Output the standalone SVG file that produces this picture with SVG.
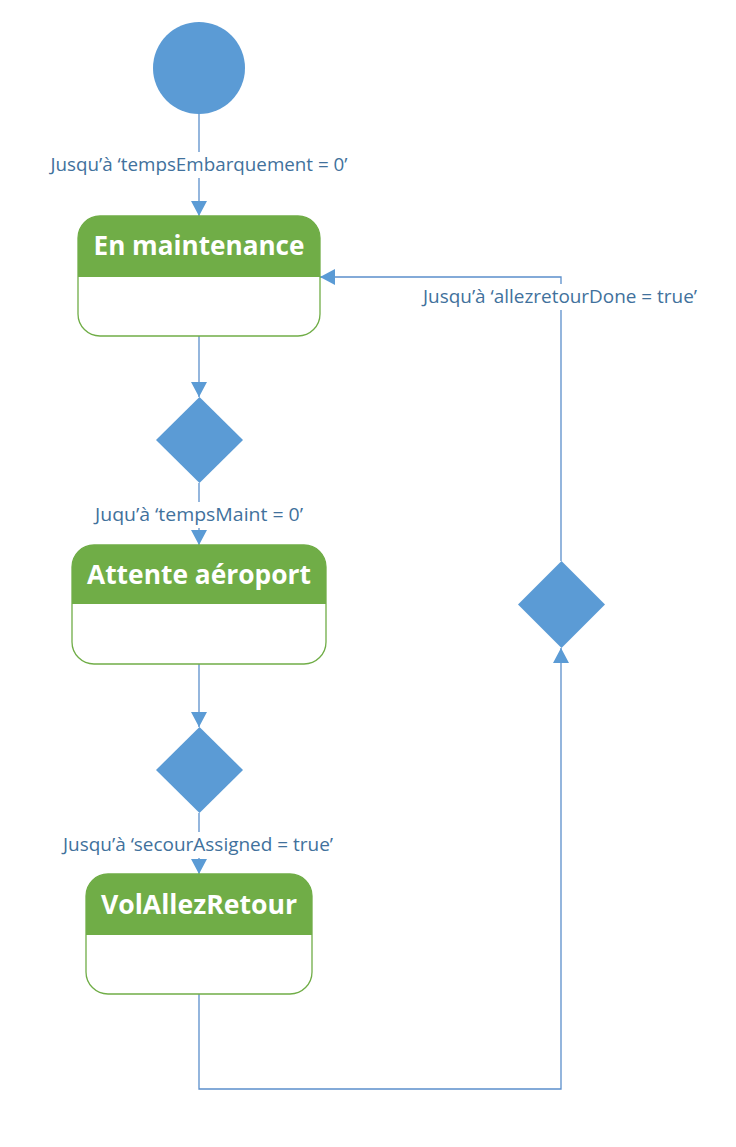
<svg xmlns="http://www.w3.org/2000/svg" width="736" height="1147" viewBox="0 0 736 1147">
<style>
.conn{fill:none;stroke:#5B8FCB;stroke-width:1.3}
.dec{fill:#5B9BD5}
.hdr{fill:#70AD47}
.body{fill:#fff;stroke:#70AD47;stroke-width:1.3}
.title{font-family:"Open Sans",sans-serif;font-weight:bold;font-size:26px;fill:#fff;text-anchor:middle}
.lbl{font-family:"Open Sans",sans-serif;font-size:18.5px;fill:#41719C;text-anchor:middle}
</style>
<defs>
<marker id="arr" markerUnits="userSpaceOnUse" markerWidth="16" markerHeight="16" viewBox="0 0 16 16" refX="15" refY="8" orient="auto">
<path d="M0,0 L15,8 L0,16 Z" fill="#5B9BD5"/>
</marker>
</defs>
<g id="start"><circle cx="199" cy="68" r="46" class="dec"/></g>
<g id="connectors">
<line class="conn" x1="199" y1="114" x2="199" y2="216" marker-end="url(#arr)"/>
<line class="conn" x1="199" y1="336" x2="199" y2="397" marker-end="url(#arr)"/>
<line class="conn" x1="199" y1="483" x2="199" y2="545" marker-end="url(#arr)"/>
<line class="conn" x1="199" y1="664" x2="199" y2="727" marker-end="url(#arr)"/>
<line class="conn" x1="199" y1="813" x2="199" y2="874" marker-end="url(#arr)"/>
<polyline class="conn" points="199,994 199,1089 561,1089 561,648" marker-end="url(#arr)"/>
<polyline class="conn" points="561,561 561,277 320,277" marker-end="url(#arr)"/>
<rect x="420" y="284" width="282" height="26" fill="#fff"/>
<rect x="46" y="152" width="306" height="26" fill="#fff"/>
<rect x="91" y="502" width="216" height="26" fill="#fff"/>
<rect x="59" y="832" width="278" height="26" fill="#fff"/>
<text class="lbl" x="199" y="171" textLength="297" lengthAdjust="spacingAndGlyphs">Jusqu’à ‘tempsEmbarquement = 0’</text>
<text class="lbl" x="199" y="521" textLength="208" lengthAdjust="spacingAndGlyphs">Juqu’à ‘tempsMaint = 0’</text>
<text class="lbl" x="198" y="851" textLength="270" lengthAdjust="spacingAndGlyphs">Jusqu’à ‘secourAssigned = true’</text>
<text class="lbl" x="560" y="303" textLength="274" lengthAdjust="spacingAndGlyphs">Jusqu’à ‘allezretourDone = true’</text>
</g>
<g id="en-maintenance">
<rect class="body" x="78" y="216" width="242" height="120" rx="22"/>
<path class="hdr" d="M78,277 V238 A22,22 0 0 1 100,216 H298 A22,22 0 0 1 320,238 V277 Z"/>
<text class="title" x="199" y="255" textLength="211" lengthAdjust="spacingAndGlyphs">En maintenance</text>
</g>
<g id="decision1"><polygon class="dec" points="199.5,397 243,440 199.5,483 156,440"/></g>
<g id="attente-aeroport">
<rect class="body" x="72" y="545" width="254" height="119" rx="22"/>
<path class="hdr" d="M72,604 V567 A22,22 0 0 1 94,545 H304 A22,22 0 0 1 326,567 V604 Z"/>
<text class="title" x="199" y="584" textLength="224" lengthAdjust="spacingAndGlyphs">Attente aéroport</text>
</g>
<g id="decision2"><polygon class="dec" points="199.5,727 243,770 199.5,813 156,770"/></g>
<g id="vol-allez-retour">
<rect class="body" x="86" y="874" width="226" height="120" rx="22"/>
<path class="hdr" d="M86,935 V896 A22,22 0 0 1 108,874 H290 A22,22 0 0 1 312,896 V935 Z"/>
<text class="title" x="199" y="914" textLength="196" lengthAdjust="spacingAndGlyphs">VolAllezRetour</text>
</g>
<g id="decision3"><polygon class="dec" points="561.5,561 605,604.5 561.5,648 518,604.5"/></g>
</svg>
